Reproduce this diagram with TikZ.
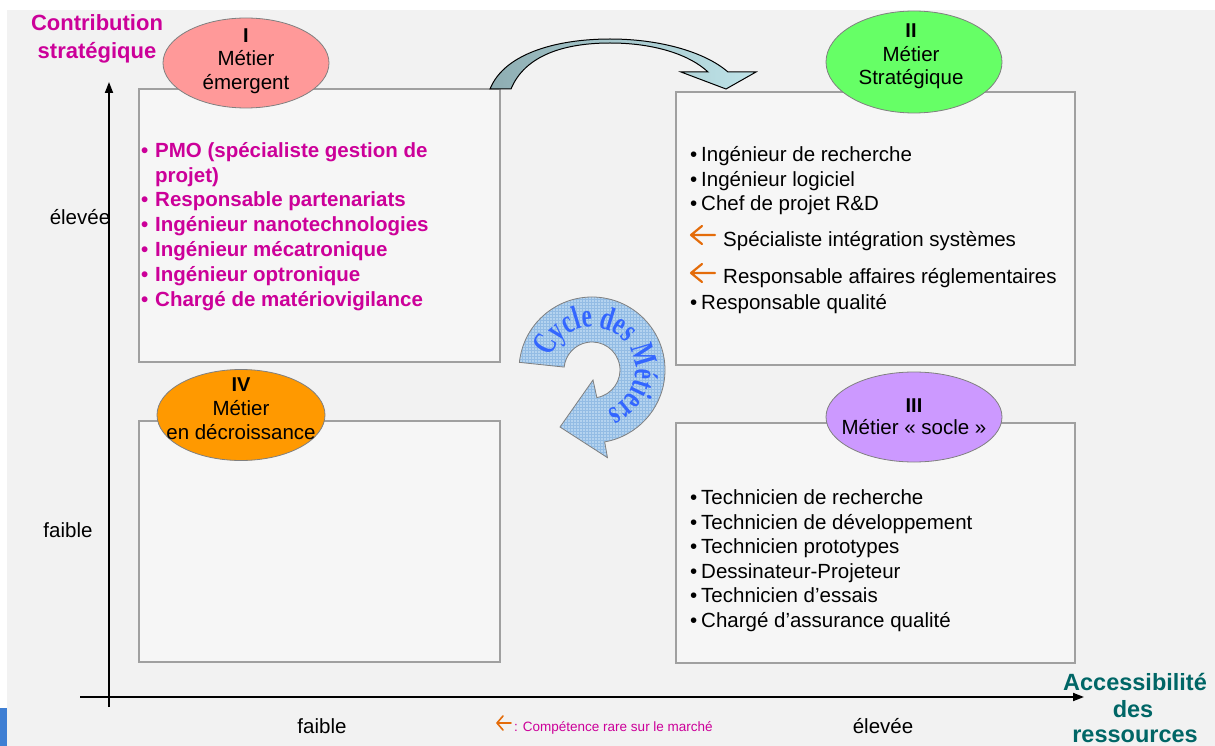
\documentclass[tikz,border=0pt]{standalone}
\usepackage{fontspec}
\setmainfont{Liberation Sans}
\newfontfamily\cyclefont{Liberation Serif}
\usetikzlibrary{arrows.meta,calc,patterns,shapes.geometric}

\definecolor{pagebg}{HTML}{F2F2F2}
\definecolor{boxfill}{HTML}{F6F6F6}
\definecolor{boxline}{HTML}{A0A0A0}
\definecolor{strat}{HTML}{CC0099}
\definecolor{access}{HTML}{006666}
\definecolor{rare}{HTML}{E46C0A}
\definecolor{emergent}{HTML}{FF9999}
\definecolor{strategic}{HTML}{66FF66}
\definecolor{socle}{HTML}{CC99FF}
\definecolor{decline}{HTML}{FF9900}
\definecolor{cycleblue}{HTML}{3366FF}
\definecolor{ringfill}{HTML}{B4D3EF}
\definecolor{ringgrid}{HTML}{93BCE4}
\definecolor{arrowdark}{HTML}{8EADB2}
\definecolor{arrowlight}{HTML}{BFE4E9}
\definecolor{sidebar}{HTML}{3F7FD3}

\newcommand\setfs[1]{\fontsize{#1}{#1}\selectfont}

\begin{document}
\begin{tikzpicture}[x=1pt,y=-1pt,
  quadbox/.style={draw=boxline, line width=1.2pt, fill=boxfill, rectangle, inner sep=0pt},
  badge/.style={ellipse, draw=black!50, line width=0.8pt, inner sep=0pt},
  txt/.style={inner sep=0pt, font=\setfs{20.5}},
  item/.style={txt, anchor=base west},
  hot/.style={item, font=\setfs{20.5}\bfseries, text=strat},
  numeral/.style={txt, anchor=base, font=\setfs{20}\bfseries},
  caption/.style={txt, anchor=base},
  ytitle/.style={anchor=base, inner sep=0pt, font=\setfs{22}\bfseries, text=strat},
  xtitle/.style={anchor=base, inner sep=0pt, font=\setfs{23.5}\bfseries, text=access},
  cycchar/.style={anchor=base, inner sep=0pt, font=\cyclefont\bfseries\setfs{23}, text=cycleblue},
  axis/.style={line width=1.8pt, -{Triangle[length=11pt,width=8pt]}},
  rarestyle/.style={draw=rare, line width=2.2pt, line cap=round, line join=round}
]
\useasboundingbox (0,0) rectangle (1215,746);

% page background
\fill[white] (0,0) rectangle (1215,746);
\fill[pagebg] (7,10) rectangle (1215,746);
\fill[sidebar] (0,708) rectangle (7,746);

% the four quadrants
\node[quadbox, minimum width=361pt, minimum height=273pt] (boxI)   at (319.5,225.5) {};
\node[quadbox, minimum width=399pt, minimum height=273pt] (boxII)  at (875.5,228.5) {};
\node[quadbox, minimum width=361pt, minimum height=241pt] (boxIV)  at (319.5,541.5) {};
\node[quadbox, minimum width=399pt, minimum height=240pt] (boxIII) at (875.5,543) {};

% quadrant badges
\node[badge, fill=emergent,  minimum width=166pt, minimum height=90pt]  (eI)   at (246,63) {};
\node[badge, fill=strategic, minimum width=176pt, minimum height=102pt] (eII)  at (914,62) {};
\node[badge, fill=socle,     minimum width=176pt, minimum height=90pt]  (eIII) at (914,417) {};
\node[badge, fill=decline,   minimum width=168pt, minimum height=91pt]  (eIV)  at (241,415) {};

\node[numeral] (nI) at (246,43) {I};
\node[caption] (mI) at (246,66) {Métier};
\node[caption] (sI) at (246,90) {émergent};

\node[numeral] (nII) at (911,38) {II};
\node[caption] (mII) at (911,62) {Métier};
\node[caption] (sII) at (911,85) {Stratégique};

\node[numeral] (nIII) at (914,412) {III};
\node[caption] (mIII) at (914,434) {Métier~« socle~»};

\node[numeral] (nIV) at (241,391) {IV};
\node[caption] (mIV) at (241,415) {Métier};
\node[caption] (sIV) at (241,439) {en décroissance};

% quadrant I : emerging jobs
\foreach \y/\n in {158/1,207/2,232/3,256/4,281/5,306/6}
  \node[hot] (dotI\n) at (141,\y) {•};
\node[hot] (itI1)  at (155,158) {PMO (spécialiste gestion de};
\node[hot] (itI1b) at (155,183) {projet)};
\node[hot] (itI2)  at (155,207) {Responsable partenariats};
\node[hot] (itI3)  at (155,232) {Ingénieur nanotechnologies};
\node[hot] (itI4)  at (155,256) {Ingénieur mécatronique};
\node[hot] (itI5)  at (155,281) {Ingénieur optronique};
\node[hot] (itI6)  at (155,306) {Chargé de matériovigilance};

% quadrant II : strategic jobs
\foreach \y/\n in {162/1,187/2,211/3,309/6}
  \node[item] (dotII\n) at (690,\y) {•};
\node[item] (itII1) at (701,162) {Ingénieur de recherche};
\node[item] (itII2) at (701,187) {Ingénieur logiciel};
\node[item] (itII3) at (701,211) {Chef de projet R\&D};
\node[item] (itII4) at (723,246) {Spécialiste intégration systèmes};
\node[item] (itII5) at (723,283) {Responsable affaires réglementaires};
\node[item] (itII6) at (701,309) {Responsable qualité};
\draw[rarestyle] (715,235) -- (691,235) (702,226) -- (691,235) -- (702,244);
\draw[rarestyle] (715,273) -- (691,273) (702,264) -- (691,273) -- (702,282);

% quadrant III : core jobs
\foreach \y/\n in {504/1,529/2,553/3,578/4,602/5,627/6}
  \node[item] (dotIII\n) at (690,\y) {•};
\node[item] (itIII1) at (701,504) {Technicien de recherche};
\node[item] (itIII2) at (701,529) {Technicien de développement};
\node[item] (itIII3) at (701,553) {Technicien prototypes};
\node[item] (itIII4) at (701,578) {Dessinateur-Projeteur};
\node[item] (itIII5) at (701,602) {Technicien d’essais};
\node[item] (itIII6) at (701,627) {Chargé d’assurance qualité};

% curved arrow from I to II
\path[draw=black, line width=1pt, left color=arrowdark, right color=arrowlight]
  (490,89) .. controls (505,52) and (560,39) .. (610,39)
  .. controls (660,39) and (705,52) .. (728,72)
  -- (756,72) -- (726,89) -- (681,72) -- (708,72)
  .. controls (690,55) and (655,43) .. (610,43)
  .. controls (565,43) and (525,55) .. (511,89) -- cycle;

% circular arrow of the job cycle
\coordinate (cc) at (592,370);
\path[preaction={fill=ringfill}, pattern=grid, pattern color=ringgrid,
      draw=black!50, line width=0.8pt]
  ($(cc)+(186:73)$) arc[start angle=186, end angle=440, radius=73]
  -- ($(cc)+(440:89)$) -- (560,427) -- (593,380)
  -- ($(cc)+(440:28)$) arc[start angle=440, end angle=186, radius=28] -- cycle;
% lettering set one glyph at a time around the ring, stretched radially
\foreach \ch/\ang [count=\i] in {C/209,y/227.7,c/242.1,l/253.2,e/264.2,
    d/287.2,e/302.5,s/315.2,M/343.3,é/364.5,t/376.4,i/385.7,e/396.8,r/410.4,s/423.1}
  \node[cycchar, rotate={-\ang-90}] (cyc\i) at ($(cc)+(\ang:43)$) {\scalebox{1}[1.45]{\ch}};

% axes
\coordinate (yfoot) at (109,707);
\coordinate (ytip)  at (109,82);
\coordinate (xfoot) at (80,697);
\coordinate (xtip)  at (1084,697);
\draw[axis] (yfoot) -- (ytip);
\draw[axis] (xfoot) -- (xtip);

\node[ytitle] (yt1) at (97,31) {Contribution};
\node[ytitle] (yt2) at (97,59) {stratégique};
\node[xtitle] (xt1) at (1135,690) {Accessibilité};
\node[xtitle] (xt2) at (1133,717) {des};
\node[xtitle] (xt3) at (1135,742) {ressources};

\node[caption] (yhigh) at (80,225) {élevée};
\node[caption] (ylow)  at (68,537) {faible};
\node[caption] (xlow)  at (322,733) {faible};
\node[caption] (xhigh) at (883,733) {élevée};

% legend
\draw[rarestyle, line width=1.6pt] (511,723) -- (497,723) (503,716) -- (497,723) -- (503,730);
\node[anchor=base west, inner sep=0pt, font=\setfs{13.5}, text=strat] (legend) at (514,731)
  {: Compétence rare sur le marché};
\end{tikzpicture}
\end{document}
